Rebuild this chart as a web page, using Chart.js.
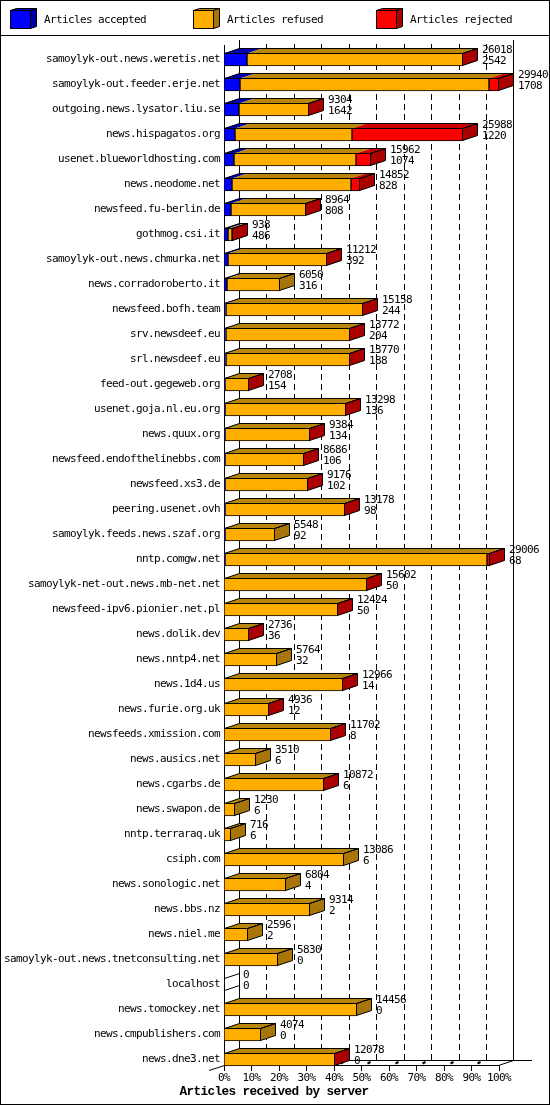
<!DOCTYPE html>
<html>
<head>
<meta charset="utf-8">
<title>Articles received by server</title>
<script src="https://cdn.jsdelivr.net/npm/chart.js@4/dist/chart.umd.min.js"></script>
<style>
html, body { margin: 0; padding: 0; background: #fff; }
canvas { display: block; }
</style>
</head>
<body>
<canvas id="chart" width="550" height="1105"></canvas>
<script>
const servers = [
  "samoylyk-out.news.weretis.net", "samoylyk-out.feeder.erje.net", "outgoing.news.lysator.liu.se",
  "news.hispagatos.org", "usenet.blueworldhosting.com", "news.neodome.net", "newsfeed.fu-berlin.de",
  "gothmog.csi.it", "samoylyk-out.news.chmurka.net", "news.corradoroberto.it", "newsfeed.bofh.team",
  "srv.newsdeef.eu", "srl.newsdeef.eu", "feed-out.gegeweb.org", "usenet.goja.nl.eu.org", "news.quux.org",
  "newsfeed.endofthelinebbs.com", "newsfeed.xs3.de", "peering.usenet.ovh", "samoylyk.feeds.news.szaf.org",
  "nntp.comgw.net", "samoylyk-net-out.news.mb-net.net", "newsfeed-ipv6.pionier.net.pl", "news.dolik.dev",
  "news.nntp4.net", "news.1d4.us", "news.furie.org.uk", "newsfeeds.xmission.com", "news.ausics.net",
  "news.cgarbs.de", "news.swapon.de", "nntp.terraraq.uk", "csiph.com", "news.sonologic.net", "news.bbs.nz",
  "news.niel.me", "samoylyk-out.news.tnetconsulting.net", "localhost", "news.tomockey.net",
  "news.cmpublishers.com", "news.dne3.net"
];

// first number beside each bar
const offered = [
  26018, 29940, 9304, 25988, 15962, 14852, 8964, 938, 11212, 6050, 15158, 13772, 13770, 2708, 13298, 9384,
  8686, 9176, 13178, 5548, 29006, 15602, 12424, 2736, 5764, 12966, 4936, 11702, 3510, 10872, 1230, 716,
  13086, 6804, 9314, 2596, 5830, 0, 14456, 4074, 12078
];
// second number beside each bar
const accepted = [
  2542, 1708, 1642, 1220, 1074, 828, 808, 486, 392, 316, 244, 204, 188, 154, 136, 134,
  106, 102, 98, 92, 68, 50, 50, 36, 32, 14, 12, 8, 6, 6, 6, 6,
  6, 4, 2, 2, 0, 0, 0, 0, 0
];
const rejected = [
  40, 1100, 40, 12100, 1570, 1030, 40, 20, 30, 0, 30, 30, 30, 20, 30, 20,
  20, 20, 20, 0, 330, 20, 20, 10, 0, 20, 10, 20, 0, 10, 0, 0,
  0, 0, 0, 0, 0, 0, 0, 0, 10
];
const refused = offered.map((v, i) => v - accepted[i] - rejected[i]);

const seriesNames = ["Articles accepted", "Articles refused", "Articles rejected"];
const axisTitle = "Articles received by server";
const frontColors = ["#0000ff", "#ffae00", "#ff0000"];
const topColors = ["#0000b4", "#b8860b", "#cc0000"];
const sideColors = ["#0000aa", "#a87508", "#aa0000"];
const scaleMax = Math.max(...offered);

const DX = 15, DY = 5;
const monoFont = '11px "DejaVu Sans Mono"';

function poly(ctx, pts) {
  ctx.beginPath();
  pts.forEach((p, i) => i ? ctx.lineTo(p[0], p[1]) : ctx.moveTo(p[0], p[1]));
  ctx.closePath();
}

function line(ctx, x1, y1, x2, y2) {
  ctx.beginPath();
  ctx.moveTo(x1, y1);
  ctx.lineTo(x2, y2);
  ctx.stroke();
}

// top and side faces of a legend box
function box(ctx, x0, x1, y0, y1, dx, dy, top, side) {
  const l = x0 + 0.5, r = x1 - 0.5, t = y0 + 0.5, b = y1 - 0.5;
  ctx.fillStyle = top;
  poly(ctx, [[l, t], [l + dx, t - dy], [r + dx, t - dy], [r, t]]);
  ctx.fill();
  ctx.stroke();
  ctx.fillStyle = side;
  poly(ctx, [[r, t], [r + dx, t - dy], [r + dx, b - dy], [r, b]]);
  ctx.fill();
  ctx.stroke();
}

// frame, walls, floor and dashed grid behind the bars
const backdrop = {
  id: "backdrop",
  afterDatasetsUpdate(chart) {
    // keep the bar edges on whole pixels like the original
    chart.data.datasets.forEach((ds, d) => {
      chart.getDatasetMeta(d).data.forEach(el => {
        el.x = Math.round(el.x);
        el.base = Math.round(el.base);
      });
    });
  },
  beforeDraw(chart) {
    // squeezes the taller font down to 6px per character
    chart.ctx.letterSpacing = "-0.62px";
  },
  beforeDatasetsDraw(chart) {
    const ctx = chart.ctx, xs = chart.scales.x;
    const left = Math.round(xs.getPixelForValue(0));
    const right = Math.round(xs.getPixelForValue(scaleMax));
    ctx.save();
    ctx.strokeStyle = "#000";
    ctx.lineWidth = 1;

    // gridlines on the back wall
    ctx.setLineDash([6, 4]);
    for (let i = 1; i < 10; i++) {
      const x = Math.floor(xs.getPixelForValue(scaleMax * i / 10)) + DX + 0.5;
      line(ctx, x, 1060, x, 40);
    }
    ctx.setLineDash([]);

    // walls
    line(ctx, left + 0.5, 45, left + 0.5, 1066);
    line(ctx, left + DX + 0.5, 40, left + DX + 0.5, 1061);
    line(ctx, right + DX - 0.5, 40, right + DX - 0.5, 1061);

    // floor
    line(ctx, left + DX, 1060.5, 532, 1060.5);
    line(ctx, left - 15, 1070.5, left + 0.5, 1065.5);
    line(ctx, left, 1065.5, right, 1065.5);
    line(ctx, right - 0.5, 1065.5, right + DX - 0.5, 1060.5);
    for (let i = 0; i <= 10; i++) {
      const x = Math.floor(xs.getPixelForValue(scaleMax * i / 10)) + 0.5;
      line(ctx, x, 1065.5, x, 1071);
      if (i > 0 && i < 10) {
        ctx.lineWidth = 2;
        line(ctx, x + 6, 1063.5, x + 9, 1062);
        ctx.lineWidth = 1;
      }
    }
    ctx.restore();
  },
  afterDraw(chart) {
    const ctx = chart.ctx;
    ctx.save();
    ctx.strokeStyle = "#000";
    ctx.lineWidth = 1;
    ctx.strokeRect(0.5, 0.5, 549, 1104);
    line(ctx, 0, 35.5, 550, 35.5);

    // legend
    const legendX = [10, 193, 376];
    const labelX = [44, 227, 410];
    seriesNames.forEach((name, i) => {
      box(ctx, legendX[i], legendX[i] + 21, 10, 29, 6, 2, topColors[i], sideColors[i]);
      ctx.strokeRect(legendX[i] + 0.5, 10.5, 20, 18);
      ctx.fillStyle = frontColors[i];
      ctx.fillRect(legendX[i] + 1, 11, 19, 17);
      ctx.fillStyle = "#000";
      ctx.font = monoFont;
      ctx.textBaseline = "middle";
      ctx.textAlign = "left";
      ctx.fillText(name, labelX[i], 20);
    });

    ctx.fillStyle = "#000";
    ctx.font = 'bold 12.7px "Liberation Mono"';
    ctx.textAlign = "center";
    ctx.textBaseline = "middle";
    ctx.fillText(axisTitle, 274, 1092);
    ctx.restore();
  }
};

// depth faces and the two numbers for every bar
const depth = {
  id: "depth",
  afterDatasetsDraw(chart) {
    const ctx = chart.ctx;
    const metas = chart.data.datasets.map((ds, d) => chart.getDatasetMeta(d));
    ctx.save();
    ctx.strokeStyle = "#000";
    ctx.lineWidth = 1;
    servers.forEach((name, i) => {
      const els = metas.map(m => m.data[i]);
      const yc = els[0].y;
      const y0 = Math.round(yc - 6.5), y1 = y0 + 13;
      const x0 = els[0].base, x1 = els[2].x;
      const l = x0 + 0.5, r = x1 - 0.5, t = y0 + 0.5, b = y1 - 0.5;

      if (x1 === x0) {
        // an empty row only leaves the two slanted edges
        line(ctx, l, t, l + DX, t - DY);
        line(ctx, l, b, l + DX, b - DY);
      } else {
        // top face, one piece per series
        els.forEach((el, s) => {
          if (el.x === el.base) return;
          ctx.fillStyle = topColors[s];
          poly(ctx, [[el.base, t], [el.base + DX, t - DY], [el.x + DX, t - DY], [el.x, t]]);
          ctx.fill();
        });
        // side face takes the colour of the last series present
        let last = 1;
        if (rejected[i] > 0) last = 2;
        else if (refused[i] <= 0 && accepted[i] > 0) last = 0;
        ctx.fillStyle = sideColors[last];
        poly(ctx, [[r, t], [r + DX, t - DY], [r + DX, b - DY], [r, b]]);
        ctx.fill();
        ctx.stroke();
        poly(ctx, [[l, t], [l + DX, t - DY], [r + DX, t - DY], [r, t]]);
        ctx.stroke();
      }

      ctx.fillStyle = "#000";
      ctx.font = monoFont;
      ctx.textAlign = "left";
      ctx.textBaseline = "middle";
      ctx.fillText(String(offered[i]), x1 + 19, yc - 9.5);
      ctx.fillText(String(accepted[i]), x1 + 19, yc + 1.5);
    });
    ctx.restore();
  }
};

new Chart(document.getElementById("chart"), {
  type: "bar",
  data: {
    labels: servers,
    datasets: [accepted, refused, rejected].map((values, i) => ({
      label: seriesNames[i],
      data: values,
      backgroundColor: frontColors[i],
      borderColor: "#000",
      borderWidth: 1,
      borderSkipped: false,
      barThickness: 13,
      stack: "all"
    }))
  },
  plugins: [backdrop, depth],
  options: {
    indexAxis: "y",
    responsive: false,
    animation: false,
    devicePixelRatio: 1,
    layout: { padding: { left: 0, right: 51, top: 47, bottom: 20 } },
    plugins: {
      legend: { display: false },
      tooltip: { enabled: false }
    },
    scales: {
      x: {
        stacked: true,
        min: 0,
        max: scaleMax,
        grid: { display: false, drawTicks: false, tickLength: 0 },
        border: { display: false },
        afterFit(s) { s.height = 13; },
        ticks: {
          stepSize: scaleMax / 10,
          autoSkip: false,
          maxRotation: 0,
          padding: 0,
          color: "#000",
          font: { family: "DejaVu Sans Mono", size: 11 },
          callback: v => Math.round(v / scaleMax * 100) + "%"
        }
      },
      y: {
        stacked: true,
        grid: { display: false, drawTicks: false, tickLength: 0 },
        border: { display: false },
        afterFit(s) { s.width = 224; },
        ticks: {
          autoSkip: false,
          padding: 4,
          color: "#000",
          font: { family: "DejaVu Sans Mono", size: 11 }
        }
      }
    }
  }
});
</script>
</body>
</html>
